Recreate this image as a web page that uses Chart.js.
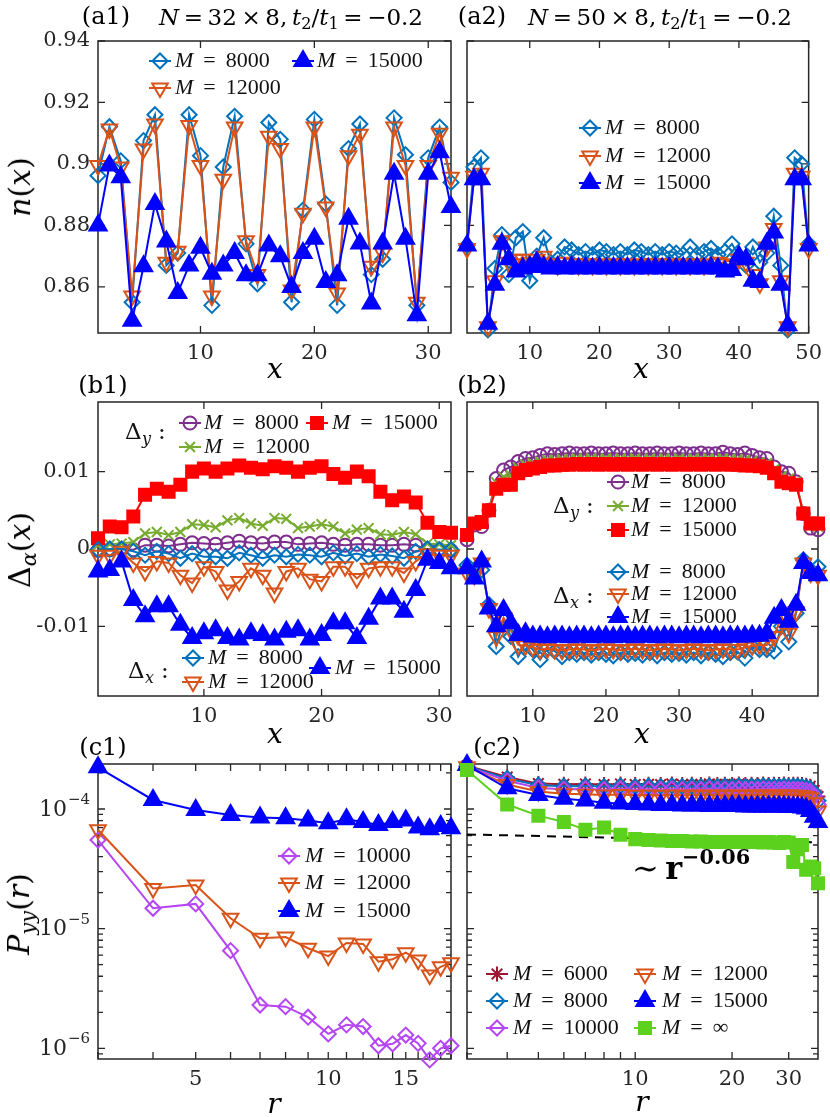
<!DOCTYPE html>
<html><head><meta charset="utf-8">
<script src="https://cdn.jsdelivr.net/npm/chart.js@4.4.1/dist/chart.umd.min.js"></script>
<style>
html,body{margin:0;padding:0;background:#fff}
body{width:830px;height:1117px;position:relative;overflow:hidden;font-family:"DejaVu Serif","Liberation Serif",serif;color:#000}
canvas{position:absolute;left:0;top:0}
.t{position:absolute;white-space:nowrap;line-height:1;z-index:5}
.c{transform:translate(-50%,-50%)}
.rot{transform:translate(-50%,-50%) rotate(-90deg)}
.op{margin:0 0.2em}
sub{font-size:0.7em;vertical-align:-0.3em;line-height:0}
sup{font-size:0.65em;vertical-align:0.7em;line-height:0}
</style></head><body>
<canvas id="ca1" width="830" height="1117"></canvas>
<canvas id="ca2" width="830" height="1117"></canvas>
<canvas id="cb1" width="830" height="1117"></canvas>
<canvas id="cb2" width="830" height="1117"></canvas>
<canvas id="cc1" width="830" height="1117"></canvas>
<canvas id="cc2" width="830" height="1117"></canvas>

<div class="t c" style="left:106px;top:16px;font-size:24px">(a1)</div>
<div class="t c" style="left:291px;top:17px;font-size:23px"><i>N</i><span class="op">=</span>32<span class="op">×</span>8,&thinsp;<i>t</i><sub>2</sub>/<i>t</i><sub>1</sub><span class="op">=</span>−0.2</div>
<div class="t c" style="left:482px;top:16px;font-size:24px">(a2)</div>
<div class="t c" style="left:660px;top:17px;font-size:23px"><i>N</i><span class="op">=</span>50<span class="op">×</span>8,&thinsp;<i>t</i><sub>2</sub>/<i>t</i><sub>1</sub><span class="op">=</span>−0.2</div>
<div class="t c" style="left:103px;top:385px;font-size:24px">(b1)</div>
<div class="t c" style="left:482px;top:385px;font-size:24px">(b2)</div>
<div class="t c" style="left:103px;top:747px;font-size:24px">(c1)</div>
<div class="t c" style="left:497px;top:747px;font-size:24px">(c2)</div>

<div class="t rot" style="left:20px;top:187px;font-size:30px"><i>n</i>(<i>x</i>)</div>
<div class="t rot" style="left:20px;top:550px;font-size:30px">Δ<sub><i>α</i></sub>(<i>x</i>)</div>
<div class="t rot" style="left:19px;top:914px;font-size:30px"><i>P</i><sub><i>yy</i></sub>(<i>r</i>)</div>

<div class="t c" style="left:275px;top:369px;font-size:28px"><i>x</i></div>
<div class="t c" style="left:641px;top:369px;font-size:28px"><i>x</i></div>
<div class="t c" style="left:275px;top:734px;font-size:28px"><i>x</i></div>
<div class="t c" style="left:642px;top:734px;font-size:28px"><i>x</i></div>
<div class="t c" style="left:274px;top:1104px;font-size:28px"><i>r</i></div>
<div class="t c" style="left:642px;top:1102px;font-size:28px"><i>r</i></div>

<div class="t" style="left:632px;top:852px;font-size:32px">∼&thinsp;<b>r</b><sup><b>−0.06</b></sup></div>

<script>
// ---------------- data ----------------
const a1X = [1,2,3,4,5,6,7,8,9,10,11,12,13,14,15,16,17,18,19,20,21,22,23,24,25,26,27,28,29,30,31,32];
const a1M8000  = [0.8962,0.9121,0.901,0.855,0.9076,0.916,0.867,0.871,0.916,0.9027,0.854,0.899,0.9155,0.874,0.861,0.9135,0.908,0.855,0.885,0.9145,0.887,0.854,0.905,0.913,0.864,0.869,0.915,0.903,0.854,0.902,0.912,0.894];
const a1M12000 = [0.8995,0.9114,0.899,0.857,0.9049,0.913,0.868,0.8716,0.9125,0.8995,0.857,0.895,0.912,0.875,0.864,0.909,0.905,0.859,0.884,0.912,0.886,0.858,0.9027,0.9097,0.8667,0.871,0.912,0.8995,0.855,0.8995,0.910,0.8957];
const a1M15000 = [0.880,0.8995,0.8957,0.849,0.8667,0.887,0.8748,0.858,0.867,0.8727,0.8643,0.867,0.871,0.8638,0.8638,0.8735,0.870,0.860,0.871,0.8757,0.8616,0.8638,0.8822,0.8741,0.8546,0.8741,0.8968,0.8757,0.8508,0.8968,0.9038,0.886];

const a2X = [1,2,3,4,5,6,7,8,9,10,11,12,13,14,15,16,17,18,19,20,21,22,23,24,25,26,27,28,29,30,31,32,33,34,35,36,37,38,39,40,41,42,43,44,45,46,47,48,49,50];
const a2M8000  = [0.8735,0.899,0.902,0.846,0.866,0.877,0.864,0.876,0.878,0.862,0.870,0.876,0.868,0.869,0.873,0.872,0.8705,0.8715,0.8705,0.872,0.8715,0.8705,0.8715,0.8705,0.872,0.8715,0.8705,0.8715,0.8705,0.8715,0.871,0.8705,0.873,0.8705,0.8715,0.8725,0.8705,0.8715,0.874,0.870,0.867,0.873,0.868,0.871,0.883,0.867,0.846,0.902,0.900,0.874];
const a2M12000 = [0.8725,0.896,0.897,0.847,0.862,0.875,0.868,0.869,0.869,0.868,0.869,0.870,0.8675,0.867,0.868,0.8675,0.867,0.8675,0.867,0.8675,0.867,0.8675,0.867,0.8675,0.867,0.8675,0.867,0.8675,0.867,0.8675,0.867,0.8675,0.867,0.8675,0.867,0.8675,0.868,0.8675,0.867,0.869,0.868,0.864,0.861,0.873,0.879,0.862,0.847,0.897,0.896,0.8725];
const a2M15000 = [0.8735,0.895,0.895,0.848,0.8607,0.874,0.869,0.865,0.866,0.8665,0.868,0.8665,0.866,0.8665,0.866,0.8665,0.866,0.8662,0.866,0.8662,0.866,0.8662,0.866,0.8662,0.866,0.8662,0.866,0.8662,0.866,0.8662,0.866,0.8662,0.866,0.8662,0.866,0.8662,0.866,0.865,0.8655,0.870,0.869,0.862,0.8616,0.874,0.8777,0.8607,0.8475,0.895,0.895,0.8735];

const b1X = [1,2,3,4,5,6,7,8,9,10,11,12,13,14,15,16,17,18,19,20,21,22,23,24,25,26,27,28,29,30,31];
const b1Dy8000  = [-0.0002,-0.0001,0.0000,-0.0001,0.0005,0.0005,0.0004,0.0006,0.0008,0.0007,0.0006,0.0008,0.0010,0.0008,0.0007,0.0009,0.0009,0.0006,0.0007,0.0008,0.0006,0.0005,0.0006,0.0006,0.0005,0.0005,0.0006,0.0005,-0.0001,-0.0001,-0.0002];
const b1Dy12000 = [0.0005,0.0006,0.0007,0.0009,0.0020,0.0022,0.0018,0.0022,0.0032,0.0031,0.0028,0.0037,0.0040,0.0033,0.0030,0.0040,0.0039,0.0027,0.0029,0.0032,0.0029,0.0020,0.0025,0.0027,0.0019,0.0018,0.0022,0.0019,0.0007,0.0006,0.0005];
const b1Dy15000 = [0.0014,0.0029,0.0028,0.0042,0.0070,0.0078,0.0074,0.0083,0.0100,0.0104,0.0100,0.0104,0.0108,0.0105,0.0103,0.0107,0.0105,0.0100,0.0105,0.0107,0.0097,0.0092,0.0100,0.0094,0.0074,0.0063,0.0068,0.0060,0.0034,0.0022,0.0021];
const b1Dx8000  = [-0.0001,0.0000,0.0000,-0.0003,-0.0008,-0.0003,-0.0006,-0.0012,-0.0006,-0.0010,-0.0010,-0.0012,-0.0005,-0.0008,-0.0012,-0.0008,-0.0010,-0.0007,-0.0008,-0.0010,-0.0005,-0.0009,-0.0006,-0.0010,-0.0007,-0.0009,-0.0012,-0.0003,0.0000,-0.0001,-0.0001];
const b1Dx12000 = [-0.0008,-0.0008,-0.0003,-0.0018,-0.0029,-0.0016,-0.0018,-0.0034,-0.0044,-0.0023,-0.0029,-0.0053,-0.0042,-0.0025,-0.0034,-0.0057,-0.0029,-0.0025,-0.0039,-0.0042,-0.0023,-0.0023,-0.0038,-0.0025,-0.0023,-0.0023,-0.0031,-0.0016,-0.0006,-0.0008,-0.0008];
const b1Dx15000 = [-0.0029,-0.0027,-0.0016,-0.0066,-0.0087,-0.0074,-0.0074,-0.0098,-0.0115,-0.0109,-0.0105,-0.0115,-0.0117,-0.0109,-0.0111,-0.0117,-0.0107,-0.0105,-0.0117,-0.0111,-0.0096,-0.0096,-0.0115,-0.0090,-0.0064,-0.0064,-0.0081,-0.0053,-0.0014,-0.0018,-0.0025];

const b2X = [1,2,3,4,5,6,7,8,9,10,11,12,13,14,15,16,17,18,19,20,21,22,23,24,25,26,27,28,29,30,31,32,33,34,35,36,37,38,39,40,41,42,43,44,45,46,47,48,49];
const b2Dy8000  = [0.0012,0.0031,0.0029,0.0050,0.0091,0.0102,0.0106,0.0113,0.0117,0.0118,0.0121,0.0123,0.0122,0.0123,0.0124,0.0123,0.0123,0.0124,0.0123,0.0123,0.0124,0.0123,0.0123,0.0124,0.0123,0.0123,0.0124,0.0123,0.0123,0.0124,0.0123,0.0123,0.0124,0.0123,0.0123,0.0125,0.0123,0.0122,0.0124,0.0121,0.0118,0.0117,0.0106,0.0100,0.0098,0.0087,0.0046,0.0027,0.0025];
const b2Dy12000 = [0.0016,0.0032,0.0033,0.0050,0.0086,0.0093,0.0095,0.0105,0.0109,0.0111,0.0113,0.0115,0.0115,0.0116,0.0116,0.0117,0.0116,0.0117,0.0116,0.0117,0.0116,0.0117,0.0116,0.0117,0.0116,0.0117,0.0116,0.0117,0.0116,0.0117,0.0116,0.0117,0.0116,0.0117,0.0116,0.0117,0.0116,0.0116,0.0115,0.0114,0.0112,0.0111,0.0103,0.0094,0.0091,0.0087,0.0046,0.0030,0.0029];
const b2Dy15000 = [0.0018,0.0033,0.0035,0.0050,0.0078,0.0083,0.0083,0.0098,0.0102,0.0104,0.0106,0.0108,0.0108,0.0109,0.0109,0.0110,0.0109,0.0110,0.0109,0.0110,0.0109,0.0110,0.0109,0.0110,0.0109,0.0110,0.0109,0.0110,0.0109,0.0110,0.0109,0.0110,0.0109,0.0110,0.0109,0.0110,0.0109,0.0109,0.0108,0.0108,0.0107,0.0105,0.0098,0.0087,0.0085,0.0083,0.0046,0.0033,0.0033];
const b2Dx8000  = [-0.0021,-0.0027,-0.0027,-0.0072,-0.0126,-0.0092,-0.0113,-0.0139,-0.0122,-0.0130,-0.0143,-0.0128,-0.0132,-0.0139,-0.0134,-0.0136,-0.0134,-0.0137,-0.0134,-0.0136,-0.0138,-0.0134,-0.0136,-0.0135,-0.0137,-0.0134,-0.0138,-0.0134,-0.0136,-0.0135,-0.0137,-0.0134,-0.0138,-0.0134,-0.0136,-0.0139,-0.0134,-0.0133,-0.0141,-0.0126,-0.0130,-0.0130,-0.0132,-0.0100,-0.0120,-0.0083,-0.0014,-0.0027,-0.0023];
const b2Dx12000 = [-0.0031,-0.0034,-0.0018,-0.0077,-0.0113,-0.0089,-0.0105,-0.0124,-0.0125,-0.0127,-0.0130,-0.0129,-0.0130,-0.0131,-0.0130,-0.0129,-0.0130,-0.0131,-0.0130,-0.0129,-0.0130,-0.0131,-0.0130,-0.0129,-0.0130,-0.0131,-0.0130,-0.0129,-0.0130,-0.0131,-0.0130,-0.0129,-0.0130,-0.0131,-0.0130,-0.0129,-0.0130,-0.0130,-0.0127,-0.0125,-0.0124,-0.0124,-0.0113,-0.0087,-0.0109,-0.0081,-0.0018,-0.0031,-0.0034];
const b2Dx15000 = [-0.0025,-0.0038,-0.0016,-0.0077,-0.0100,-0.0079,-0.0096,-0.0111,-0.0109,-0.0113,-0.0113,-0.0114,-0.0113,-0.0113,-0.0114,-0.0113,-0.0113,-0.0114,-0.0113,-0.0113,-0.0114,-0.0113,-0.0113,-0.0114,-0.0113,-0.0113,-0.0114,-0.0113,-0.0113,-0.0114,-0.0113,-0.0113,-0.0114,-0.0113,-0.0113,-0.0114,-0.0113,-0.0113,-0.0113,-0.0112,-0.0112,-0.0109,-0.0089,-0.0079,-0.0094,-0.0072,-0.0018,-0.0031,-0.0034];

const c1R = [3,4,5,6,7,8,9,10,11,12,13,14,15,16,17,18,19];
const c1M10000 = [5.5e-5,1.48e-5,1.61e-5,6.55e-6,2.3e-6,2.23e-6,1.82e-6,1.32e-6,1.57e-6,1.52e-6,1.05e-6,1.09e-6,1.29e-6,1.1e-6,8.0e-7,1.0e-6,1.05e-6];
const c1M12000 = [6.7e-5,2.17e-5,2.32e-5,1.22e-5,8.3e-6,8.5e-6,6.86e-6,5.9e-6,7.6e-6,7.45e-6,5.3e-6,5.55e-6,6.3e-6,5.47e-6,4.1e-6,4.8e-6,5.2e-6];
const c1M15000 = [2.23e-4,1.19e-4,9.8e-5,8.9e-5,8.5e-5,8.35e-5,8.0e-5,7.6e-5,8.2e-5,7.8e-5,7.35e-5,7.8e-5,8.0e-5,7.0e-5,6.76e-5,7.2e-5,6.9e-5];

const c2R = [3,4,5,6,7,8,9,10,11,12,13,14,15,16,17,18,19,20,21,22,23,24,25,26,27,28,29,30,31,32,33,34,35,36,37];
const c2M6000  = [2.30e-4,1.85e-4,1.63e-4,1.61e-4,1.62e-4,1.60e-4,1.62e-4,1.60e-4,1.61e-4,1.60e-4,1.62e-4,1.60e-4,1.61e-4,1.60e-4,1.62e-4,1.60e-4,1.61e-4,1.60e-4,1.62e-4,1.60e-4,1.61e-4,1.60e-4,1.62e-4,1.60e-4,1.61e-4,1.60e-4,1.62e-4,1.60e-4,1.61e-4,1.61e-4,1.60e-4,1.58e-4,1.55e-4,1.43e-4,1.27e-4];
const c2M8000  = [2.28e-4,1.80e-4,1.58e-4,1.55e-4,1.56e-4,1.54e-4,1.56e-4,1.54e-4,1.55e-4,1.54e-4,1.56e-4,1.54e-4,1.55e-4,1.54e-4,1.56e-4,1.54e-4,1.55e-4,1.54e-4,1.56e-4,1.54e-4,1.55e-4,1.54e-4,1.56e-4,1.54e-4,1.55e-4,1.54e-4,1.56e-4,1.54e-4,1.55e-4,1.55e-4,1.54e-4,1.52e-4,1.48e-4,1.36e-4,1.17e-4];
const c2M10000 = [2.26e-4,1.72e-4,1.50e-4,1.46e-4,1.47e-4,1.45e-4,1.47e-4,1.45e-4,1.46e-4,1.45e-4,1.47e-4,1.45e-4,1.46e-4,1.45e-4,1.47e-4,1.45e-4,1.46e-4,1.45e-4,1.47e-4,1.45e-4,1.46e-4,1.45e-4,1.47e-4,1.45e-4,1.46e-4,1.45e-4,1.47e-4,1.45e-4,1.46e-4,1.46e-4,1.45e-4,1.43e-4,1.40e-4,1.29e-4,1.09e-4];
const c2M12000 = [2.25e-4,1.60e-4,1.40e-4,1.34e-4,1.33e-4,1.31e-4,1.32e-4,1.30e-4,1.31e-4,1.30e-4,1.31e-4,1.30e-4,1.31e-4,1.30e-4,1.31e-4,1.30e-4,1.31e-4,1.30e-4,1.31e-4,1.30e-4,1.31e-4,1.30e-4,1.31e-4,1.30e-4,1.31e-4,1.30e-4,1.31e-4,1.30e-4,1.30e-4,1.30e-4,1.29e-4,1.27e-4,1.24e-4,1.13e-4,9.6e-5];
const c2M15000 = [2.33e-4,1.49e-4,1.31e-4,1.22e-4,1.18e-4,1.13e-4,1.11e-4,1.10e-4,1.09e-4,1.08e-4,1.08e-4,1.07e-4,1.07e-4,1.07e-4,1.06e-4,1.06e-4,1.06e-4,1.06e-4,1.06e-4,1.05e-4,1.05e-4,1.05e-4,1.05e-4,1.05e-4,1.05e-4,1.05e-4,1.05e-4,1.04e-4,1.04e-4,1.04e-4,1.03e-4,1.01e-4,9.6e-5,8.6e-5,7.8e-5];
const c2MInf   = [2.12e-4,1.09e-4,8.8e-5,7.8e-5,6.7e-5,7.0e-5,6.1e-5,5.6e-5,5.5e-5,5.45e-5,5.4e-5,5.4e-5,5.35e-5,5.35e-5,5.3e-5,5.3e-5,5.3e-5,5.3e-5,5.3e-5,5.3e-5,5.3e-5,5.3e-5,5.25e-5,5.3e-5,5.25e-5,5.2e-5,5.3e-5,5.25e-5,3.6e-5,4.6e-5,5.0e-5,3.1e-5,3.3e-5,3.2e-5,2.4e-5];
const fitR = [3, 37];
const fitP = [6.13e-5, 5.27e-5];

// tick arrays
const aYTicks = [0.86, 0.88, 0.9, 0.92, 0.94];
const aYLabels = ['0.86', '0.88', '0.9', '0.92', '0.94'];
const a1XTicks = [10, 20, 30];
const a2XTicks = [10, 20, 30, 40, 50];
const bYTicks = [-0.01, 0, 0.01];
const bYLabels = ['-0.01', '0', '0.01'];
const b1XTicks = [10, 20, 30];
const b2XTicks = [10, 20, 30, 40];
const c1XTicks = [3,4,5,6,7,8,9,10,11,12,13,14,15,16,17,18,19];
const c1XLabels = ['','','5','','','','','10','','','','','15','','','',''];
const c2XTicks = [3,4,5,6,7,8,9,10,20,30];
const c2XLabels = ['','','','','','','','10','20','30'];
const cYTicks = [9e-7,1e-6,2e-6,3e-6,4e-6,5e-6,6e-6,7e-6,8e-6,9e-6,1e-5,2e-5,3e-5,4e-5,5e-5,6e-5,7e-5,8e-5,9e-5,1e-4,2e-4];
const cYMajor = [1e-6, 1e-5, 1e-4];
const cYExp = ['−6', '−5', '−4'];

// ---------------- styles ----------------
const FONT = '"DejaVu Serif", "Liberation Serif", serif';
const LFONT = '"Liberation Serif", "DejaVu Serif", serif';
const AX = '#262626';
const S8000  = {c:'#0072BD', s:'rectRot', r:7.5};
const S12000 = {c:'#D95319', s:'triangle', rot:180, r:9};
const S15000 = {c:'#0000FF', s:'triangle', r:10, fill:true};
const SDy8000  = {c:'#7E2F8E', s:'circle', r:6.5};
const SDy12000 = {c:'#77AC30', s:'crossRot', r:7};
const SDy15000 = {c:'#FF0000', s:'rect', r:8.5, fill:true};
const S6000  = {c:'#A2142F', s:'star', r:7.5};
const S10000 = {c:'#B545F5', s:'rectRot', r:7.5};
const SInf   = {c:'#5CD11E', s:'rect', r:8.5, fill:true};

function ds(xs, ys, st, order) {
  return {
    data: xs.map((x, i) => ({x: x, y: ys[i]})),
    borderColor: st.c, backgroundColor: st.c, borderWidth: 2,
    pointStyle: st.s, pointRadius: st.r, pointRotation: st.rot || 0,
    pointBorderColor: st.c, pointBackgroundColor: st.fill ? st.c : 'rgba(0,0,0,0)',
    pointBorderWidth: 2, fill: false, tension: 0, clip: false, order: order
  };
}

function marker(ctx, st, x, y) {
  const r = st.r, Q = Math.PI / 4;
  ctx.save();
  ctx.strokeStyle = st.c; ctx.lineWidth = 2;
  ctx.fillStyle = st.fill ? st.c : 'rgba(0,0,0,0)';
  ctx.beginPath();
  if (st.s === 'circle') { ctx.arc(x, y, r, 0, 2 * Math.PI); }
  else if (st.s === 'rectRot') { ctx.moveTo(x - r, y); ctx.lineTo(x, y - r); ctx.lineTo(x + r, y); ctx.lineTo(x, y + r); ctx.closePath(); }
  else if (st.s === 'rect') { const h = Math.SQRT1_2 * r; ctx.rect(x - h, y - h, 2 * h, 2 * h); }
  else if (st.s === 'triangle') {
    let a = (st.rot || 0) * Math.PI / 180;
    for (let k = 0; k < 3; k++) { const px = x + Math.sin(a) * r, py = y - Math.cos(a) * r; if (k === 0) ctx.moveTo(px, py); else ctx.lineTo(px, py); a += 2 * Math.PI / 3; }
    ctx.closePath();
  } else if (st.s === 'crossRot' || st.s === 'star') {
    const d = Math.cos(Q) * r;
    ctx.moveTo(x - d, y - d); ctx.lineTo(x + d, y + d); ctx.moveTo(x - d, y + d); ctx.lineTo(x + d, y - d);
    if (st.s === 'star') { ctx.moveTo(x - r, y); ctx.lineTo(x + r, y); ctx.moveTo(x, y - r); ctx.lineTo(x, y + r); }
  }
  ctx.fill(); ctx.stroke();
  ctx.restore();
}

function mText(ctx, x, y, val) {
  const fs = 22;
  ctx.save();
  ctx.fillStyle = '#111'; ctx.textBaseline = 'middle'; ctx.textAlign = 'left';
  ctx.font = 'italic ' + fs + 'px ' + LFONT; ctx.fillText('M', x, y);
  const wm = ctx.measureText('M').width;
  ctx.font = fs + 'px ' + LFONT;
  const we = ctx.measureText('=').width;
  const ex = x + wm + 10;
  ctx.fillText('=', ex, y);
  ctx.fillText(val, ex + we + 10, y);
  ctx.restore();
}

function deltaLabel(ctx, x, y, sub) {
  ctx.save();
  ctx.fillStyle = '#111'; ctx.textBaseline = 'middle'; ctx.textAlign = 'left';
  ctx.font = '23px ' + FONT; ctx.fillText('Δ', x, y);
  ctx.font = 'italic 16px ' + FONT; ctx.fillText(sub, x + 17, y + 7);
  ctx.font = '23px ' + FONT; ctx.fillText(':', x + 33, y);
  ctx.restore();
}

function legendPlugin(entries, labels) {
  return {
    id: 'customLegend',
    afterDatasetsDraw(chart) {
      const ctx = chart.ctx;
      entries.forEach(e => {
        ctx.save();
        ctx.strokeStyle = e.st.c; ctx.lineWidth = 2;
        ctx.beginPath(); ctx.moveTo(e.x - 11, e.y); ctx.lineTo(e.x + 11, e.y); ctx.stroke();
        ctx.restore();
        marker(ctx, e.st, e.x, e.y);
        mText(ctx, e.tx, e.y, e.v);
      });
      (labels || []).forEach(l => deltaLabel(ctx, l.x, l.y, l.sub));
    }
  };
}

const framePlugin = {
  id: 'frame',
  beforeDatasetsDraw(chart) {
    const ctx = chart.ctx, a = chart.chartArea, xs = chart.scales.x, ys = chart.scales.y;
    ctx.save();
    ctx.strokeStyle = AX; ctx.lineWidth = 1.5;
    ctx.strokeRect(a.left, a.top, a.right - a.left, a.bottom - a.top);
    ctx.lineWidth = 1.3;
    ctx.beginPath();
    xs.ticks.forEach(t => {
      const p = xs.getPixelForValue(t.value), L = t.minor ? 5 : 7;
      ctx.moveTo(p, a.bottom); ctx.lineTo(p, a.bottom - L);
      ctx.moveTo(p, a.top); ctx.lineTo(p, a.top + L);
    });
    ys.ticks.forEach(t => {
      const p = ys.getPixelForValue(t.value), L = t.minor ? 5 : 7;
      ctx.moveTo(a.left, p); ctx.lineTo(a.left + L, p);
      ctx.moveTo(a.right, p); ctx.lineTo(a.right - L, p);
    });
    ctx.stroke();
    ctx.restore();
  }
};

const logLabelPlugin = {
  id: 'logLabels',
  afterDraw(chart) {
    const ctx = chart.ctx, a = chart.chartArea, ys = chart.scales.y;
    ctx.save();
    ctx.fillStyle = AX; ctx.textBaseline = 'middle'; ctx.textAlign = 'right';
    cYMajor.forEach((v, i) => {
      const p = ys.getPixelForValue(v);
      const right = a.left - 8;
      ctx.font = '15px ' + FONT;
      const w2 = ctx.measureText(cYExp[i]).width;
      ctx.fillText(cYExp[i], right, p - 9);
      ctx.font = '22px ' + FONT;
      ctx.fillText('10', right - w2 - 1, p + 1);
    });
    ctx.restore();
  }
};

function axis(cfg, isX, yw) {
  return {
    type: cfg.type || 'linear', min: cfg.min, max: cfg.max,
    grid: {display: false, drawTicks: false}, border: {display: false},
    afterBuildTicks: s => { s.ticks = cfg.values.map(v => ({value: v, minor: cfg.major ? cfg.major.indexOf(v) < 0 : false})); },
    ticks: {display: cfg.show !== false, autoSkip: false, maxRotation: 0, minRotation: 0, padding: 8,
            color: AX, font: {family: FONT, size: 21},
            callback: (v, i) => cfg.labels ? cfg.labels[i] : String(v)},
    afterFit: s => { if (isX) s.height = 40; else s.width = yw; }
  };
}

function panel(id, box, xcfg, ycfg, datasets, plugins) {
  const yw = box.l - box.pl;
  return new Chart(document.getElementById(id), {
    type: 'line',
    data: {datasets: datasets},
    options: {
      responsive: false, animation: false, events: [],
      layout: {padding: {left: box.pl, top: box.t, right: 830 - box.r, bottom: 1117 - box.b - 40}},
      plugins: {legend: {display: false}, tooltip: {enabled: false}},
      scales: {x: axis(xcfg, true), y: axis(ycfg, false, yw)}
    },
    plugins: [framePlugin].concat(plugins || [])
  });
}

const ROWA = {t: 41, b: 333}, ROWB = {t: 402, b: 696}, ROWC = {t: 764, b: 1059};
const L1 = {l: 98, r: 451, pl: 6}, L2 = {l: 467, r: 818, pl: 455};

panel('ca1', Object.assign({}, L1, ROWA),
  {min: 1, max: 32, values: a1XTicks},
  {min: 0.845, max: 0.94, values: aYTicks, labels: aYLabels},
  [ds(a1X, a1M8000, S8000, 2), ds(a1X, a1M12000, S12000, 1), ds(a1X, a1M15000, S15000, 0)],
  [legendPlugin([
    {st: S8000, x: 160, y: 61, tx: 175, v: '8000'},
    {st: S15000, x: 303, y: 61, tx: 317, v: '15000'},
    {st: S12000, x: 160, y: 88, tx: 175, v: '12000'}
  ])]);

panel('ca2', Object.assign({}, L2, ROWA),
  {min: 1, max: 50, values: a2XTicks},
  {min: 0.845, max: 0.94, values: aYTicks, labels: aYLabels, show: false},
  [ds(a2X, a2M8000, S8000, 2), ds(a2X, a2M12000, S12000, 1), ds(a2X, a2M15000, S15000, 0)],
  [legendPlugin([
    {st: S8000, x: 590, y: 128, tx: 605, v: '8000'},
    {st: S12000, x: 590, y: 156, tx: 605, v: '12000'},
    {st: S15000, x: 590, y: 183, tx: 605, v: '15000'}
  ])]);

panel('cb1', Object.assign({}, L1, ROWB),
  {min: 1, max: 31, values: b1XTicks},
  {min: -0.019, max: 0.019, values: bYTicks, labels: bYLabels},
  [ds(b1X, b1Dy8000, SDy8000, 5), ds(b1X, b1Dy12000, SDy12000, 4), ds(b1X, b1Dy15000, SDy15000, 3),
   ds(b1X, b1Dx8000, S8000, 2), ds(b1X, b1Dx12000, S12000, 1), ds(b1X, b1Dx15000, S15000, 0)],
  [legendPlugin([
    {st: SDy8000, x: 190, y: 423, tx: 204, v: '8000'},
    {st: SDy15000, x: 317, y: 423, tx: 332, v: '15000'},
    {st: SDy12000, x: 190, y: 447, tx: 204, v: '12000'},
    {st: S8000, x: 193, y: 658, tx: 208, v: '8000'},
    {st: S12000, x: 193, y: 682, tx: 208, v: '12000'},
    {st: S15000, x: 320, y: 668, tx: 335, v: '15000'}
  ], [{x: 125, y: 433, sub: 'y'}, {x: 128, y: 672, sub: 'x'}])]);

panel('cb2', Object.assign({}, L2, ROWB),
  {min: 1, max: 49, values: b2XTicks},
  {min: -0.019, max: 0.019, values: bYTicks, labels: bYLabels, show: false},
  [ds(b2X, b2Dy8000, SDy8000, 5), ds(b2X, b2Dy12000, SDy12000, 4), ds(b2X, b2Dy15000, SDy15000, 3),
   ds(b2X, b2Dx8000, S8000, 2), ds(b2X, b2Dx12000, S12000, 1), ds(b2X, b2Dx15000, S15000, 0)],
  [legendPlugin([
    {st: SDy8000, x: 618, y: 482, tx: 631, v: '8000'},
    {st: SDy12000, x: 618, y: 506, tx: 631, v: '12000'},
    {st: SDy15000, x: 618, y: 530, tx: 631, v: '15000'},
    {st: S8000, x: 618, y: 572, tx: 631, v: '8000'},
    {st: S12000, x: 618, y: 594, tx: 631, v: '12000'},
    {st: S15000, x: 618, y: 617, tx: 631, v: '15000'}
  ], [{x: 553, y: 507, sub: 'y'}, {x: 553, y: 597, sub: 'x'}])]);

panel('cc1', Object.assign({}, L1, ROWC),
  {type: 'logarithmic', min: 3, max: 19, values: c1XTicks, labels: c1XLabels},
  {type: 'logarithmic', min: 8.14e-7, max: 2.377e-4, values: cYTicks, major: cYMajor, labels: cYTicks.map(() => ''), show: false},
  [ds(c1R, c1M10000, S10000, 2), ds(c1R, c1M12000, S12000, 1), ds(c1R, c1M15000, S15000, 0)],
  [logLabelPlugin, legendPlugin([
    {st: S10000, x: 289, y: 856, tx: 305, v: '10000'},
    {st: S12000, x: 289, y: 883, tx: 305, v: '12000'},
    {st: S15000, x: 289, y: 911, tx: 305, v: '15000'}
  ])]);

const fitDs = {data: fitR.map((r, i) => ({x: r, y: fitP[i]})), borderColor: '#000', borderWidth: 2,
  borderDash: [9, 7], pointRadius: 0, fill: false, clip: false, order: 6};
panel('cc2', Object.assign({}, L2, ROWC),
  {type: 'logarithmic', min: 3, max: 37, values: c2XTicks, labels: c2XLabels},
  {type: 'logarithmic', min: 8.14e-7, max: 2.377e-4, values: cYTicks, major: cYMajor, labels: cYTicks.map(() => ''), show: false},
  [fitDs, ds(c2R, c2M6000, S6000, 5), ds(c2R, c2M8000, S8000, 4), ds(c2R, c2M10000, S10000, 3),
   ds(c2R, c2M12000, S12000, 2), ds(c2R, c2M15000, S15000, 1), ds(c2R, c2MInf, SInf, 0)],
  [legendPlugin([
    {st: S6000, x: 497, y: 974, tx: 513, v: '6000'},
    {st: S8000, x: 497, y: 1001, tx: 513, v: '8000'},
    {st: S10000, x: 497, y: 1028, tx: 513, v: '10000'},
    {st: S12000, x: 645, y: 974, tx: 662, v: '12000'},
    {st: S15000, x: 645, y: 1001, tx: 662, v: '15000'},
    {st: SInf, x: 645, y: 1028, tx: 662, v: '∞'}
  ])]);
</script>
</body></html>
